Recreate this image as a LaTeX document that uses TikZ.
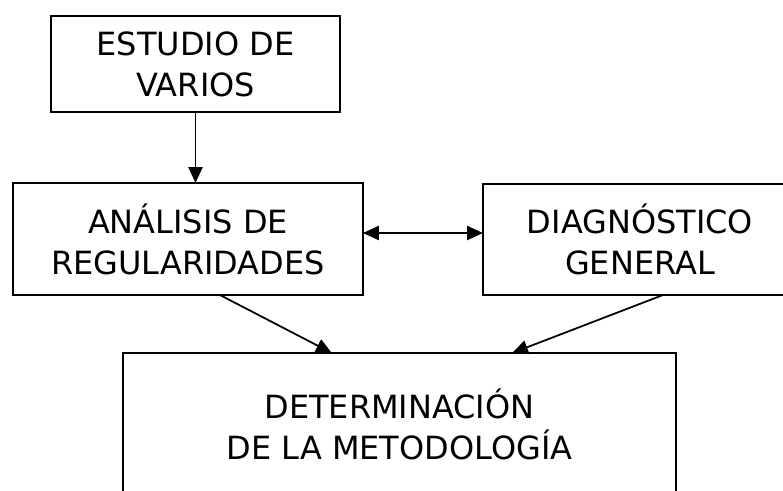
\documentclass[tikz,border=0pt]{standalone}
\usepackage{fontspec}
\setmainfont{DejaVu Sans}
\usetikzlibrary{arrows.meta}

\tikzset{
    caja/.style={draw, line width=1.7pt, align=center, inner sep=0pt, outer sep=0pt,
        font=\fontsize{27.3pt}{35pt}\selectfont},
    flecha/.style={-{Triangle[length=13.5pt, width=12pt]}, line width=1.5pt},
}

\begin{document}
\begin{tikzpicture}[x=0.03cm, y=-0.03cm]
    \useasboundingbox (0,0) rectangle (783,490);
    \node [caja, minimum width=8.67cm, minimum height=2.88cm] (estudio) at (195.5,64) {ESTUDIO DE\\VARIOS};
    \node [caja, minimum width=10.5cm, minimum height=3.36cm] (analisis) at (188,239) {ANÁLISIS DE\\REGULARIDADES};
    \node [caja, minimum width=9.42cm, minimum height=3.33cm] (diagnostico) at (640,239.5) {DIAGNÓSTICO\\GENERAL};
    \node [caja, minimum width=16.59cm, minimum height=4.26cm] (metodo) at (399.5,424) {DETERMINACIÓN\\DE LA METODOLOGÍA};

    % flechas
    \draw [flecha] (estudio.south) -- (estudio.south |- analisis.north);
    \draw [flecha, {Triangle[length=13.5pt, width=12pt]}-{Triangle[length=13.5pt, width=12pt]}]
        ([yshift=0.18cm]analisis.east) -- ([yshift=0.18cm]analisis.east -| diagnostico.west);
    \draw [flecha] ([xshift=0.96cm]analisis.south) -- ([xshift=-2.03cm]metodo.north);
    \draw [flecha] ([xshift=0.69cm]diagnostico.south) -- ([xshift=3.38cm]metodo.north);
\end{tikzpicture}
\end{document}
